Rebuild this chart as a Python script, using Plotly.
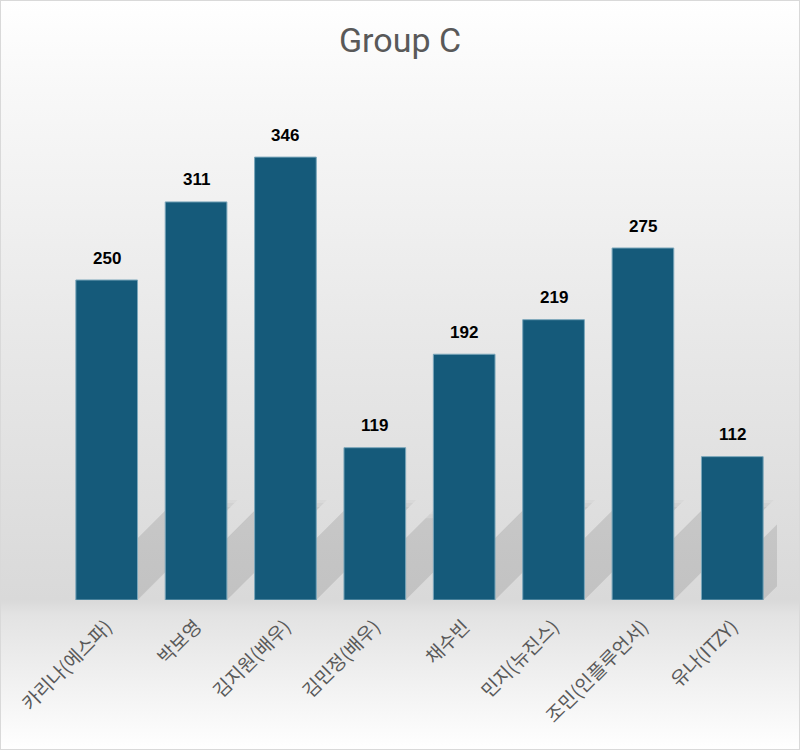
import base64
import plotly.graph_objects as go

categories = ["카리나(에스파)", "박보영", "김지원(배우)", "김민정(배우)", "채수빈", "민지(뉴진스)", "조민(인플루언서)", "유나(ITZY)"]
values = [250, 311, 346, 119, 192, 219, 275, 112]
title_text = "Group C"

W, H = 800, 750
ML, MR, MT, MB = 62, 23, 100, 150
PW, PH = W - ML - MR, H - MT - MB
PX_PER_UNIT = 1.28
BAR_GAP = 0.31
BAR_PX = PW / len(categories) * (1 - BAR_GAP)

svg = f'''<svg xmlns="http://www.w3.org/2000/svg" width="{W}" height="{H}" viewBox="0 0 {W} {H}" preserveAspectRatio="none">
<defs><linearGradient id="g" x1="0" y1="0" x2="0" y2="1">
<stop offset="0" stop-color="#ffffff"/>
<stop offset="0.12" stop-color="#f8f8f8"/>
<stop offset="0.45" stop-color="#e8e8e8"/>
<stop offset="0.80" stop-color="#d9d9d9"/>
<stop offset="0.82" stop-color="#e3e3e3"/>
<stop offset="1" stop-color="#ffffff"/>
</linearGradient></defs>
<rect x="0" y="0" width="{W}" height="{H}" fill="url(#g)"/>
<rect x="0.5" y="0.5" width="{W-1}" height="{H-1}" fill="none" stroke="#d9d9d9" stroke-width="1"/>
</svg>'''
src = "data:image/svg+xml;base64," + base64.b64encode(svg.encode()).decode()

fig = go.Figure(go.Bar(
    x=categories, y=values,
    marker=dict(color="#155a7a", line=dict(color="#7aa6ba", width=1)),
    hoverinfo="x+y",
))

# soft diagonal shadows behind bars (derived from the bar values)
shapes = []
hw = BAR_PX / 2
for i, v in enumerate(values):
    hpx = min(v * PX_PER_UNIT * 0.55, 95)
    for grow, op in [(5, 0.04), (2, 0.05), (-2, 0.07)]:
        h = hpx + grow
        path = (f"M {-hw},0 L {hw},0 "
                f"L {hw + h},{h} L {-hw + h},{h} Z")
        shapes.append(dict(type="path", path=path, xref="x", yref="y",
                           xsizemode="pixel", ysizemode="pixel", xanchor=i, yanchor=0,
                           fillcolor=f"rgba(70,70,70,{op})", line=dict(width=0), layer="below"))

annotations = [dict(x=c, y=v, text=f"<b>{v}</b>", showarrow=False, yshift=22,
                    font=dict(family="Liberation Sans, Arial", size=17, color="#000000"))
               for c, v in zip(categories, values)]

fig.update_layout(
    width=W, height=H,
    margin=dict(l=ML, r=MR, t=MT, b=MB),
    paper_bgcolor="rgba(0,0,0,0)", plot_bgcolor="rgba(0,0,0,0)",
    bargap=BAR_GAP,
    showlegend=False,
    title=dict(text=title_text, x=0.5, xref="container", xanchor="center", y=1 - 40 / H, yanchor="middle",
               font=dict(family="Roboto, Inter, sans-serif", size=34, color="#595959")),
    xaxis=dict(tickangle=-45, showgrid=False, showline=False, zeroline=False, ticks="",
               range=[-0.5, len(categories) - 0.5], fixedrange=True,
               ticklabelstandoff=11,
               tickfont=dict(family="Noto Sans CJK KR", size=19, color="#595959")),
    yaxis=dict(range=[0, PH / PX_PER_UNIT], visible=False, showgrid=False, zeroline=False),
    shapes=shapes,
    annotations=annotations,
    images=[dict(source=src, xref="paper", yref="paper", x=-ML / PW, y=1 + MT / PH,
                 sizex=W / PW, sizey=H / PH, xanchor="left", yanchor="top",
                 sizing="stretch", layer="below")],
)

fig.write_html("out.html")
